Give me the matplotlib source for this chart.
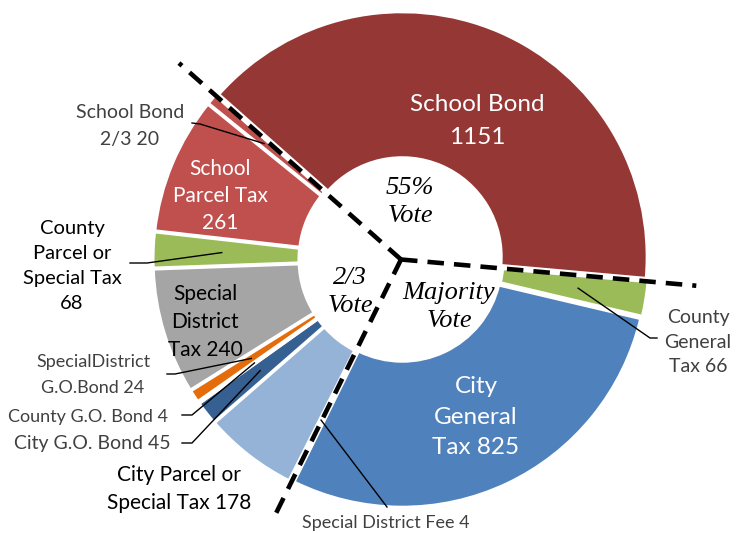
import matplotlib

matplotlib.use("Agg")

import matplotlib.pyplot as plt
import numpy as np

W, H = 747, 533

# wedges, clockwise from the top-left dashed line
names = ["School Bond", "County General Tax", "City General Tax", "Special District Fee",
         "City Parcel or Special Tax", "City G.O. Bond", "County G.O. Bond",
         "Special District G.O. Bond", "Special District Tax", "County Parcel or Special Tax",
         "School Parcel Tax", "School Bond 2/3"]
counts = [1151, 66, 825, 4, 178, 45, 4, 24, 240, 68, 261, 20]
colors = ["#953735", "#9BBB59", "#4F81BD", "#FFFFFF", "#95B3D7", "#376092",
          "#FFFFFF", "#E46C0A", "#A5A5A5", "#9BBB59", "#C0504D", "#C0504D"]
# first wedge of each vote group -> where the dashed dividers go
group_starts = [0, 1, 3]

INK = "#000000"
GREY = "#404040"
SANS = ["Lato", "DejaVu Sans"]
SERIF = ["Liberation Serif", "DejaVu Serif"]

START = 138.5
R = 245.0
HOLE = 99.0
GAP = 3.0
cx, cy = 401.0, H - 259.5

total = float(sum(counts))
cum = np.concatenate([[0], np.cumsum(counts)])


def px(x, y):
    return x, H - y


def angle_at(c):
    return np.radians(START - 360.0 * c / total)


fig = plt.figure(figsize=(W / 100, H / 100), dpi=100)
ax = fig.add_axes([0, 0, 1, 1])

ax.pie(counts, colors=colors, radius=R, center=(cx, cy), startangle=START,
       counterclock=False, explode=[GAP] * len(counts),
       wedgeprops=dict(width=R - HOLE, edgecolor="white", linewidth=2.2))
ax.set_xlim(0, W)
ax.set_ylim(0, H)
ax.set_aspect("equal")
ax.axis("off")

# dashed dividers between vote groups
for k, i in enumerate(group_starts):
    a = angle_at(cum[i])
    length = R * (1.16 if k == 2 else 1.21)
    ax.plot([cx, cx + length * np.cos(a)], [cy, cy + length * np.sin(a)],
            color="black", lw=3.3, linestyle=(0, (3.6, 2.2)),
            dash_capstyle="butt", zorder=5)

# labels inside the wedges
inner = [
    ("School Bond\n1151", 477, 121, "white", 17.5, 1.75),
    ("School\nParcel Tax\n261", 220, 196, "white", 15, 1.46),
    ("Special\nDistrict\nTax 240", 205, 322, INK, 15, 1.5),
    ("City\nGeneral\nTax 825", 476, 417, "white", 17.5, 1.55),
]
for txt, x, y, col, size, ls in inner:
    ax.text(*px(x, y), txt, ha="center", va="center", color=col,
            fontsize=size, family=SANS, linespacing=ls, zorder=6)

# outside labels with leader lines:
# (wedge index, text, text pos, colour, size, line spacing, leader points)
outside = [
    (11, "School Bond\n2/3 20", (130, 126), GREY, 14, 1.7, [(192, 123), (200, 124)]),
    (9, "County\nParcel or\nSpecial Tax\n68", (72, 266), INK, 14.5, 1.55, [(130, 263), (147, 263)]),
    (7, "SpecialDistrict\nG.O.Bond 24", (93, 375), GREY, 13, 1.75, [(167, 374), (175, 374)]),
    (6, "County G.O. Bond 4", (88, 417), GREY, 13, 1.2, [(182, 415), (192, 415)]),
    (5, "City G.O. Bond 45", (92, 444), GREY, 14, 1.2, [(182, 443), (192, 443)]),
    (4, "City Parcel or\nSpecial Tax 178", (179, 489), INK, 15, 1.47, None),
    (3, "Special District Fee 4", (386, 523), GREY, 13, 1.2, [(387, 507)]),
    (1, "County\nGeneral\nTax 66", (698, 342), GREY, 14, 1.55, [(657, 338), (650, 338)]),
]
for i, txt, (x, y), col, size, ls, pts in outside:
    ax.text(*px(x, y), txt, ha="center", va="center", color=col,
            fontsize=size, family=SANS, linespacing=ls, zorder=6)
    if pts:
        a = angle_at(cum[i] + counts[i] / 2.0)
        r = 0.72 * R + GAP
        xs = [p[0] for p in pts] + [cx + r * np.cos(a)]
        ys = [H - p[1] for p in pts] + [cy + r * np.sin(a)]
        ax.plot(xs, ys, color="black", lw=1.0, zorder=6)

# vote group names in the hole
votes = [("55%\nVote", 410, 202), ("2/3\nVote", 350, 292), ("Majority\nVote", 449, 307)]
for txt, x, y in votes:
    ax.text(*px(x, y), txt, ha="center", va="center", color="black",
            fontsize=19, family=SERIF, style="italic", linespacing=1.35, zorder=6)

fig.savefig("out.png", dpi=100, facecolor="white")
